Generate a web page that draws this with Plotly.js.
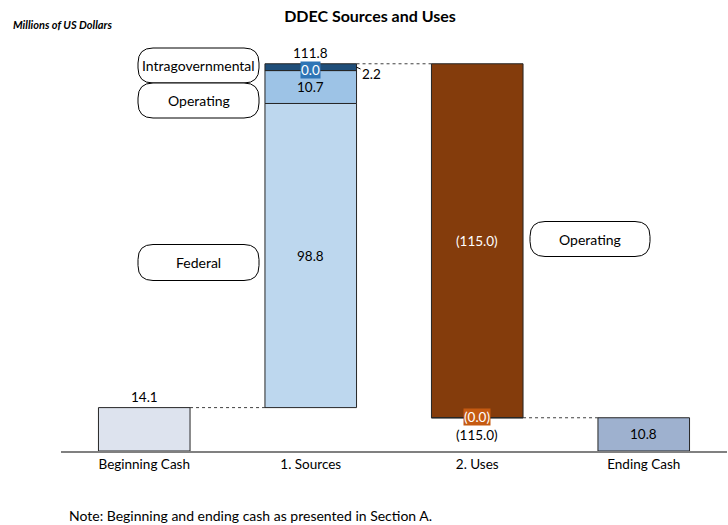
<!DOCTYPE html>
<html>
<head>
<meta charset="utf-8">
<script src="https://cdn.plot.ly/plotly-3.0.1.min.js"></script>
<style>html,body{margin:0;padding:0;background:#fff;}#chart{width:728px;height:525px;}</style>
</head>
<body>
<div id="chart"></div>
<script>
// ---- Data ----
const categories = ["Beginning Cash", "1. Sources", "2. Uses", "Ending Cash"];
const beginningCash = 14.1;
const sourceNames = ["Federal", "Operating", "Other", "Intragovernmental"];
const sourceValues = [98.8, 10.7, 0.0, 2.2];
const sourceLabels = ["98.8", "10.7", "0.0", "2.2"];
const sourcesTotalLabel = "111.8";
const useNames = ["Operating", "Other"];
const useValues = [-115.0, -0.0];
const useLabels = ["(115.0)", "(0.0)"];
const usesTotalLabel = "(115.0)";
const endingCash = 10.8;

// ---- Styles ----
const FONT = "Lato, 'Open Sans', sans-serif";
const sourceColors = ["#bdd7ee", "#9dc3e6", "#2e75b6", "#1f4e79"];
const useColors = ["#843c0c", "#c55a11"];
const beginColor = "#dde3ee";
const endColor = "#9eb1cf";
const edge = {color: "#262626", width: 1};
const BW = 0.55;

// Layout geometry (pixels)
const W = 728, H = 525, ML = 61, MR = 1, MT = 57, MB = 74;
const PW = W - ML - MR, PH = H - MT - MB;
const px = x => (x - ML) / PW;
const py = y => (H - MB - y) / PH;

const traces = [];
// Beginning cash
traces.push({type: "bar", x: [categories[0]], y: [beginningCash], base: [0], width: BW,
  marker: {color: beginColor, line: edge}, hoverinfo: "skip", showlegend: false});
// Sources stacked on top of beginning cash
let cum = beginningCash;
const sourceBases = [];
sourceValues.forEach((v, i) => {
  sourceBases.push(cum);
  traces.push({type: "bar", x: [categories[1]], y: [v], base: [cum], width: BW, name: sourceNames[i],
    marker: {color: sourceColors[i], line: edge}, hoverinfo: "skip", showlegend: false});
  cum += v;
});
const sourcesTop = cum;
// Uses going down from sources top
const useBases = [];
useValues.forEach((v, i) => {
  useBases.push(cum);
  traces.push({type: "bar", x: [categories[2]], y: [v], base: [cum], width: BW, name: useNames[i],
    marker: {color: useColors[i], line: edge}, hoverinfo: "skip", showlegend: false});
  cum += v;
});
const usesBottom = cum;
// Ending cash
traces.push({type: "bar", x: [categories[3]], y: [endingCash], base: [0], width: BW,
  marker: {color: endColor, line: edge}, hoverinfo: "skip", showlegend: false});

const tf = (size, color) => ({family: FONT, size: size, color: color || "#000"});
const NUM = 13.5, TXT = 14;
const annotations = [];
// Beginning cash label
annotations.push({x: categories[0], y: beginningCash, text: beginningCash.toFixed(1), showarrow: false,
  yanchor: "bottom", yshift: 1, font: tf(NUM)});
// Sources total
annotations.push({x: categories[1], y: sourcesTop, text: sourcesTotalLabel, showarrow: false,
  yanchor: "bottom", yshift: 1, font: tf(NUM)});
// Federal (middle)
annotations.push({x: categories[1], y: sourceBases[0] + sourceValues[0] / 2, text: sourceLabels[0],
  showarrow: false, font: tf(NUM)});
// Operating (middle)
annotations.push({x: categories[1], y: sourceBases[1] + sourceValues[1] / 2, text: sourceLabels[1],
  showarrow: false, font: tf(NUM)});
// 0.0 boxed label
annotations.push({x: categories[1], y: sourceBases[2], text: sourceLabels[2], showarrow: false,
  yshift: 1, bgcolor: sourceColors[2], borderpad: 0, font: tf(NUM, "#fff")});
// 2.2 to the right with leader
annotations.push({x: 1 + BW / 2, y: sourceBases[3] + sourceValues[3] / 2, xref: "x", yref: "y",
  text: sourceLabels[3], showarrow: true, arrowhead: 0, arrowwidth: 1, arrowcolor: "#000",
  ax: 15, ay: 7, standoff: 0, font: tf(NUM)});
// Uses middle
annotations.push({x: categories[2], y: useBases[0] + useValues[0] / 2, text: useLabels[0], showarrow: false,
  font: tf(NUM, "#fff")});
// (0.0) boxed
annotations.push({x: categories[2], y: useBases[1], text: useLabels[1], showarrow: false,
  yshift: 1, bgcolor: useColors[1], borderpad: 0, font: tf(NUM, "#fff")});
// uses total below
annotations.push({x: categories[2], y: usesBottom, text: usesTotalLabel, showarrow: false,
  yshift: -17, font: tf(NUM)});
// Ending cash
annotations.push({x: categories[3], y: endingCash / 2, text: endingCash.toFixed(1), showarrow: false,
  font: tf(NUM)});

// Category callout boxes
const callouts = [
  {text: "Intragovernmental", cx: 198.5, cy: 65.5, w: 121, h: 35},
  {text: "Operating", cx: 198.5, cy: 100.5, w: 121, h: 35},
  {text: "Federal", cx: 198.5, cy: 262.5, w: 121, h: 36},
  {text: "Operating", cx: 590, cy: 239, w: 120, h: 35}
];
const shapes = [];
callouts.forEach(c => {
  const w = c.w / 2, h = c.h / 2, r = 15;
  const path = `M ${-w + r},${-h} L ${w - r},${-h} Q ${w},${-h} ${w},${-h + r} L ${w},${h - r} Q ${w},${h} ${w - r},${h} ` +
    `L ${-w + r},${h} Q ${-w},${h} ${-w},${h - r} L ${-w},${-h + r} Q ${-w},${-h} ${-w + r},${-h} Z`;
  shapes.push({type: "path", xref: "paper", yref: "paper", xsizemode: "pixel", ysizemode: "pixel",
    xanchor: px(c.cx), yanchor: py(c.cy), path: path, fillcolor: "#fff", line: {color: "#000", width: 1}, layer: "above"});
  annotations.push({xref: "paper", yref: "paper", x: px(c.cx), y: py(c.cy), text: c.text, showarrow: false,
    xanchor: "center", yanchor: "middle", font: tf(TXT)});
});

// Dotted connectors between bars
const conn = [[0, beginningCash], [1, sourcesTop], [2, usesBottom]];
conn.forEach(([i, yv]) => {
  shapes.push({type: "line", xref: "x", yref: "y", x0: i + BW / 2, x1: i + 1 - BW / 2, y0: yv, y1: yv,
    line: {color: "#404040", width: 1, dash: "dot"}, layer: "below"});
});

// Subtitle and note
annotations.push({xref: "paper", yref: "paper", x: px(11), y: py(25), xanchor: "left", yanchor: "middle",
  text: "<b><i>Millions of US Dollars</i></b>", showarrow: false, font: tf(11)});
annotations.push({xref: "paper", yref: "paper", x: px(67), y: py(515), xanchor: "left", yanchor: "middle",
  text: "Note: Beginning and ending cash as presented in Section A.", showarrow: false, font: tf(TXT)});

const layout = {
  width: W, height: H,
  margin: {l: ML, r: MR, t: MT, b: MB},
  paper_bgcolor: "#fff", plot_bgcolor: "#fff",
  title: {text: "<b>DDEC Sources and Uses</b>", x: 370 / W, xref: "container", xanchor: "center",
    y: 1 - 16 / H, yref: "container", yanchor: "middle", font: tf(16)},
  barmode: "overlay",
  showlegend: false,
  xaxis: {type: "category", categoryorder: "array", categoryarray: categories, range: [-0.5, 3.5],
    showline: true, linecolor: "#808080", linewidth: 2, ticks: "", showgrid: false, zeroline: false,
    tickfont: tf(13.5), fixedrange: true},
  yaxis: {range: [0, 128], visible: false, showgrid: false, zeroline: false, fixedrange: true},
  annotations: annotations,
  shapes: shapes
};

Plotly.newPlot("chart", traces, layout, {displayModeBar: false, staticPlot: true});
</script>
</body>
</html>
